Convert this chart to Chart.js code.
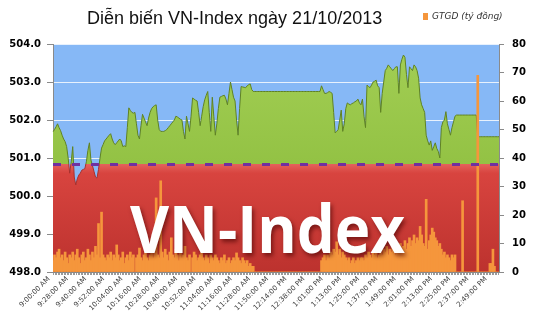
<!DOCTYPE html>
<html>
<head>
<meta charset="utf-8">
<script src="https://cdn.jsdelivr.net/npm/chart.js@4.4.1/dist/chart.umd.min.js"></script>
<style>
  html, body { margin: 0; padding: 0; background: #fff; }
  #wrap { position: relative; width: 535px; height: 335px; overflow: hidden; }
  #title { position: absolute; left: 87px; top: 8px; font: 18px 'Liberation Sans', Arial, sans-serif; color: #111; white-space: nowrap; }
  #legend { position: absolute; left: 423px; top: 11px; font: italic 9px 'DejaVu Sans', Verdana, sans-serif; color: #333; white-space: nowrap; }
  #legend i { display: inline-block; width: 5px; height: 7px; background: #F5963C; margin-right: 4px; vertical-align: -1px; }
  canvas { position: absolute; left: 0; top: 0; }
</style>
</head>
<body>
<div id="wrap">
  <canvas id="vnChart" width="535" height="335"></canvas>
  <div id="title">Diễn biến VN-Index ngày 21/10/2013</div>
  <div id="legend"><i></i>GTGD (tỷ đồng)</div>
</div>
<script>
// nhãn trục thời gian (mỗi 12 điểm một nhãn)
const tickLabels = ['9:00:00 AM','9:28:00 AM','9:40:00 AM','9:52:00 AM','10:04:00 AM','10:16:00 AM',
  '10:28:00 AM','10:40:00 AM','10:52:00 AM','11:04:00 AM','11:16:00 AM','11:28:00 AM','11:50:00 AM',
  '12:14:00 PM','12:38:00 PM','1:01:00 PM','1:13:00 PM','1:25:00 PM','1:37:00 PM','1:49:00 PM',
  '2:01:00 PM','2:13:00 PM','2:25:00 PM','2:37:00 PM','2:49:00 PM'];
const POINTS_PER_TICK = 12;

// tham chiếu (đóng cửa phiên trước)
const refLevel = 500.84;

// VN-Index
const vnIndex = [
  501.69,501.75,501.82,501.90,501.80,501.72,501.60,501.50,501.43,501.30,501.00,500.60,
  500.90,501.30,500.50,500.29,500.45,500.55,500.60,500.68,500.70,500.72,500.90,501.20,
  501.40,500.95,500.80,500.65,500.50,500.47,500.70,501.00,501.26,501.35,501.45,501.50,
  501.55,501.60,501.64,501.50,501.40,501.35,501.40,501.45,501.50,501.45,501.30,501.32,
  501.30,501.80,502.32,502.25,502.20,502.18,502.20,501.90,501.60,501.50,501.85,502.15,
  502.05,501.95,501.85,502.05,502.20,502.30,502.35,502.38,502.40,502.00,501.75,501.70,
  501.70,501.70,501.72,501.75,501.80,501.85,501.90,501.95,502.00,502.10,502.08,502.05,
  502.02,502.00,501.70,501.50,502.10,501.90,501.70,502.10,502.58,502.55,502.52,502.50,
  502.20,501.85,502.10,502.35,502.53,502.65,502.75,502.20,501.70,502.60,502.10,501.60,
  501.90,502.30,502.60,502.62,502.64,502.65,502.55,502.40,502.70,503.00,502.80,502.60,
  502.50,502.00,501.60,502.30,502.88,502.87,502.86,502.85,502.90,502.93,502.95,502.80,
  502.75,502.75,502.75,502.75,502.75,502.75,502.75,502.75,502.75,502.75,502.75,502.75,
  502.75,502.75,502.75,502.75,502.75,502.75,502.75,502.75,502.75,502.75,502.75,502.75,
  502.75,502.75,502.75,502.75,502.75,502.75,502.75,502.75,502.75,502.75,502.75,502.75,
  502.75,502.75,502.75,502.75,502.75,502.75,502.75,502.75,502.75,502.90,502.80,502.70,
  502.70,502.72,502.75,502.73,502.70,502.20,501.66,501.70,501.75,502.00,502.26,501.70,
  501.90,502.30,502.45,502.42,502.40,502.43,502.45,502.48,502.50,502.55,502.45,502.40,
  502.55,502.10,501.80,502.92,502.88,502.85,502.92,503.00,503.02,503.05,502.90,502.85,
  502.20,502.70,503.00,503.30,503.36,503.45,503.40,503.35,503.30,503.35,503.40,503.40,
  502.70,503.45,503.60,503.71,503.65,503.20,502.85,503.40,503.35,503.30,503.45,503.40,
  503.30,503.10,502.58,502.40,502.30,502.20,501.60,501.45,501.34,501.45,501.20,501.30,
  501.40,501.25,501.17,501.00,501.80,501.95,502.00,502.22,501.90,501.75,501.60,501.80,
  501.95,502.10,502.13,502.13,502.13,502.13,502.13,502.13,502.13,502.13,502.13,502.13,
  502.13,502.13,502.13,502.13,501.56,501.56,501.56,501.56,501.56,501.56,501.56,501.56,
  501.56,501.56,501.56,501.56,501.56,501.56,501.56
];

// GTGD (tỷ đồng)
const gtgd = [
  4,6,5,7,8,5,6,4,7,5,3,6,
  5,7,4,6,8,5,3,6,7,4,5,8,
  6,4,7,5,9,6,17,5,21,6,5,4,
  6,5,7,4,6,5,9.5,6,4,5,7,3,
  5,6,4,7,5,6,0,5,6,8.4,5,4,
  6,7,5,4,6,8,5,7,26,6,5,32,
  7,5,8,6,4,7,12,6,5,8,6,4,
  7,5,6,9,5,4,6,0,5,7,6,4,
  5,6,7.7,5,4,6,5,3,6,5,4,6,
  5,4,3,5,4,6,3,4,5,3,4,5,
  4,6.7,5,4,3,5,4,3,4,2,3,2,
  2,0,0,0,0,0,0,0,0,0,0,0,
  0,0,0,0,0,0,0,0,0,0,0,0,
  0,0,0,0,0,0,0,0,0,0,0,0,
  0,0,0,0,0,0,0,0,0,4,5,6,
  4,6,5,7,6,8,7,10.6,6,8,5,7,
  6,5,4,5,3,4,5,3,4,5,4,5,
  5,4,6,5,7,6,5,7,6,8,5,6,
  7,6,8,7,9,6,8,7,9,8,6,9,
  8,10,7,9,11,8,10,12,9,11,13,10,
  12,11,16,13,10,9,25.5,8,11,13,15.4,14,
  12,11,9,10,8,6,7,5,6,5,4,6,
  5,6,0,0,0,0,25,0,0,0,0,0,
  0,0,0,0,69,0,0,0,0,0,0,0,
  3,3,8,2,0,0,0
];

const categories = vnIndex.map((_, i) => i % POINTS_PER_TICK === 0 ? (tickLabels[i / POINTS_PER_TICK] || '') : '');

// nền xanh vùng vẽ
const plotBg = {
  id: 'plotBg',
  beforeDraw(chart) {
    const { ctx, chartArea: a } = chart;
    ctx.save();
    ctx.fillStyle = '#86B8F6';
    ctx.fillRect(a.left, a.top, a.right - a.left, a.bottom - a.top);
    ctx.restore();
  }
};

// đường tham chiếu + chữ chìm
const overlay = {
  id: 'overlay',
  afterDatasetsDraw(chart) {
    const { ctx, chartArea: a, scales } = chart;
    const y = Math.round(scales.y.getPixelForValue(refLevel)) + 0.5;
    ctx.save();
    ctx.strokeStyle = '#7030A0';
    ctx.lineWidth = 3;
    ctx.setLineDash([8, 11]);
    ctx.beginPath(); ctx.moveTo(a.left, y); ctx.lineTo(a.right, y); ctx.stroke();
    ctx.setLineDash([]);
    ctx.font = 'bold 67px "Open Sans", sans-serif';
    ctx.textAlign = 'center';
    ctx.textBaseline = 'alphabetic';
    ctx.shadowColor = 'rgba(70,0,0,0.6)';
    ctx.shadowOffsetX = 2; ctx.shadowOffsetY = 3; ctx.shadowBlur = 4;
    ctx.fillStyle = '#fff';
    ctx.fillText('VN-Index', a.left + (a.right - a.left) * 0.481, scales.y.getPixelForValue(498.5), 275);
    ctx.restore();
  }
};

function splitGradient(context, above, below) {
  const { ctx, chartArea: a, scales } = context.chart;
  if (!a) return above[0];
  const t = Math.max(0, Math.min(1, (scales.y.getPixelForValue(refLevel) - a.top) / (a.bottom - a.top)));
  const g = ctx.createLinearGradient(0, a.top, 0, a.bottom);
  g.addColorStop(0, above[0]);
  g.addColorStop(t, above[1]);
  g.addColorStop(t, below[0]);
  g.addColorStop(Math.min(1, t + 0.04), below[1]);
  g.addColorStop(1, below[2]);
  return g;
}

const tickFont = { family: "'DejaVu Sans', Verdana, sans-serif", size: 10, weight: 'bold' };

new Chart(document.getElementById('vnChart'), {
  type: 'bar',
  data: {
    labels: categories,
    datasets: [
      {
        type: 'bar',
        label: 'GTGD (tỷ đồng)',
        data: gtgd,
        yAxisID: 'y1',
        backgroundColor: '#F5963C',
        borderWidth: 0,
        barThickness: 2,
        order: 1
      },
      {
        type: 'line',
        label: 'VN-Index',
        data: vnIndex,
        yAxisID: 'y',
        fill: 'start',
        pointRadius: 0,
        borderWidth: 1,
        tension: 0,
        borderColor: ctx => splitGradient(ctx, ['#5F8222', '#5F8222'], ['#A8302C', '#A8302C', '#A8302C']),
        backgroundColor: ctx => splitGradient(ctx, ['#A3CF55', '#93C244'], ['#E4625C', '#D8443F', '#BC322E']),
        order: 2
      }
    ]
  },
  options: {
    responsive: false,
    animation: false,
    devicePixelRatio: 1,
    layout: { padding: { top: 44, left: 0, right: 0, bottom: 0 } },
    plugins: { legend: { display: false }, tooltip: { enabled: false }, title: { display: false } },
    scales: {
      x: {
        type: 'category',
        offset: false,
        grid: { drawOnChartArea: false, drawTicks: true, tickLength: 3, tickColor: '#9a9a9a' },
        border: { display: true, color: '#8a8a8a' },
        ticks: {
          autoSkip: false, maxRotation: 45, minRotation: 45, padding: 0, labelOffset: -4,
          color: '#404040', font: { family: "'DejaVu Sans', Verdana, sans-serif", size: 7 }
        },
        afterFit: s => { s.height = 63; }
      },
      y: {
        position: 'left',
        min: 498, max: 504,
        ticks: { stepSize: 1, callback: v => v.toFixed(1), color: '#000', font: tickFont, padding: 6 },
        grid: { color: 'rgba(255,255,255,0.8)', tickColor: '#8a8a8a', tickLength: 6 },
        border: { display: true, color: '#8a8a8a' },
        afterFit: s => { s.width = 53; }
      },
      y1: {
        position: 'right',
        min: 0, max: 80,
        ticks: { stepSize: 10, color: '#000', font: tickFont, padding: 8 },
        grid: { drawOnChartArea: false, tickColor: '#8a8a8a', tickLength: 5 },
        border: { display: true, color: '#8a8a8a' },
        afterFit: s => { s.width = 36; }
      }
    }
  },
  plugins: [plotBg, overlay]
});
</script>
</body>
</html>
